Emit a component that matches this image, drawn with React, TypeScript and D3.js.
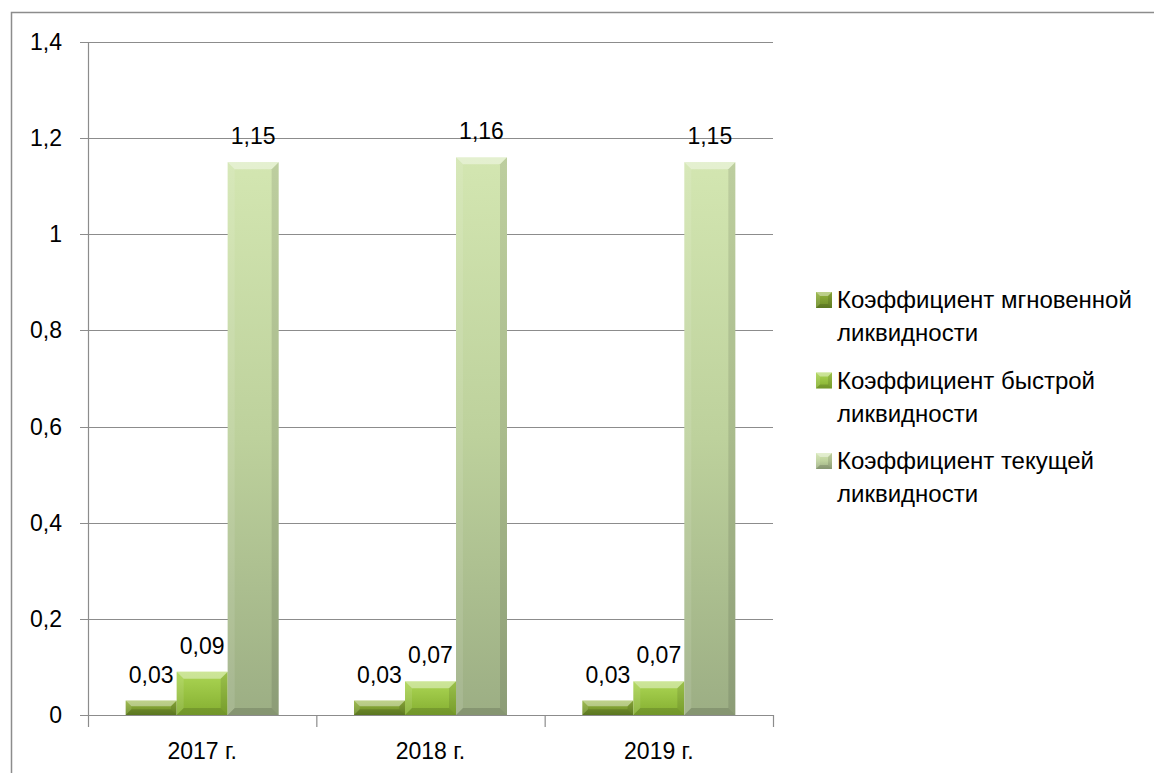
import React from "react";
import * as d3 from "d3";

const categories = ["2017 г.", "2018 г.", "2019 г."];
const seriesNames = [
  ["Коэффициент мгновенной", "ликвидности"],
  ["Коэффициент быстрой", "ликвидности"],
  ["Коэффициент текущей", "ликвидности"],
];
const instant = [0.03, 0.03, 0.03];
const quick = [0.09, 0.07, 0.07];
const current = [1.15, 1.16, 1.15];
const yTicks = [0, 0.2, 0.4, 0.6, 0.8, 1, 1.2, 1.4];

const seriesValues = [instant, quick, current];
const gradIds = ["g0", "g1", "g2"];
const FONT = "Liberation Sans, Arial, sans-serif";
const FS = 23;

const fmt = (v: number) => String(v).replace(".", ",");

export default function App() {
  const W = 1154, H = 773;
  const left = 88, right = 773, top = 42, bottom = 715;
  const y = d3.scaleLinear().domain([0, 1.4]).range([bottom, top]);
  const x0 = d3.scaleBand().domain(categories).range([left, right]).paddingInner(0).paddingOuter(0);
  const gw = x0.bandwidth();
  const groupW = gw * 0.67;
  const x1 = d3.scaleBand().domain(["0", "1", "2"]).range([0, groupW]);
  const bw = x1.bandwidth();

  const bevel = (x: number, yt: number, w: number, h: number) => {
    const b = Math.min(7, h / 2.5, w / 4);
    const xr = x + w, yb = yt + h;
    return (
      <g>
        <polygon points={`${x},${yt} ${xr},${yt} ${xr - b},${yt + b} ${x + b},${yt + b}`} fill="#ffffff" opacity={0.4} />
        <polygon points={`${x},${yt} ${x + b},${yt + b} ${x + b},${yb - b} ${x},${yb}`} fill="#ffffff" opacity={0.1} />
        <polygon points={`${xr},${yt} ${xr - b},${yt + b} ${xr - b},${yb - b} ${xr},${yb}`} fill="#000000" opacity={0.1} />
        <polygon points={`${x},${yb} ${x + b},${yb - b} ${xr - b},${yb - b} ${xr},${yb}`} fill="#000000" opacity={0.14} />
      </g>
    );
  };

  return (
    <svg width={W} height={H} style={{ position: "absolute", left: 0, top: 0 }} fontFamily={FONT}>
      <defs>
        <linearGradient id="g0" x1="0" y1="0" x2="0" y2="1">
          <stop offset="0" stopColor="#94b43e" />
          <stop offset="1" stopColor="#6a8a26" />
        </linearGradient>
        <linearGradient id="g1" x1="0" y1="0" x2="0" y2="1">
          <stop offset="0" stopColor="#acd654" />
          <stop offset="1" stopColor="#84ae30" />
        </linearGradient>
        <linearGradient id="g2" x1="0" y1="0" x2="0" y2="1">
          <stop offset="0" stopColor="#d3e6b1" />
          <stop offset="0.5" stopColor="#bdd19c" />
          <stop offset="1" stopColor="#9cae84" />
        </linearGradient>
      </defs>
      <rect x={0} y={0} width={W} height={H} fill="#ffffff" />
      <rect x={11.5} y={12.5} width={W + 10} height={H + 10} fill="none" stroke="#8c8c8c" strokeWidth={1.5} />

      {yTicks.map((t) => (
        <g key={t}>
          <line x1={left - 8} x2={right} y1={Math.round(y(t)) + 0.5} y2={Math.round(y(t)) + 0.5} stroke="#8c8c8c" strokeWidth={1.2} />
          <text x={62} y={y(t)} dy="0.35em" textAnchor="end" fontSize={FS} fill="#000">{fmt(t)}</text>
        </g>
      ))}
      <line x1={left + 0.5} x2={left + 0.5} y1={top} y2={bottom} stroke="#8c8c8c" strokeWidth={1.2} />
      {[...categories.map((c) => x0(c)!), right].map((xx, i) => (
        <line key={i} x1={xx + 0.5} x2={xx + 0.5} y1={bottom} y2={bottom + 12} stroke="#8c8c8c" strokeWidth={1.2} />
      ))}
      <line x1={left} x2={right} y1={bottom + 0.5} y2={bottom + 0.5} stroke="#8c8c8c" strokeWidth={1.2} />

      {categories.map((c, ci) => {
        const gx = x0(c)! + (gw - groupW) / 2;
        return (
          <g key={c}>
            {seriesValues.map((vals, si) => {
              const v = vals[ci];
              const bx = gx + x1(String(si))!;
              const yt = y(v);
              const h = bottom - yt;
              return (
                <g key={si}>
                  <rect x={bx} y={yt} width={bw} height={h} fill={`url(#${gradIds[si]})`} />
                  {bevel(bx, yt, bw, h)}
                </g>
              );
            })}
            {seriesValues.map((vals, si) => {
              const v = vals[ci];
              const bx = gx + x1(String(si))!;
              const yt = y(v);
              return (
                <text key={"l" + si} x={bx + bw / 2} y={yt - 18} textAnchor="middle" fontSize={FS} fill="#000">{fmt(v)}</text>
              );
            })}
            <text x={x0(c)! + gw / 2} y={759} textAnchor="middle" fontSize={FS} fill="#000">{c}</text>
          </g>
        );
      })}

      {seriesNames.map((lines, i) => {
        const ly = 300 + i * 80.5;
        return (
          <g key={i}>
            <rect x={816} y={ly - 8} width={16} height={16} fill={`url(#${gradIds[i]})`} />
            {bevel(816, ly - 8, 16, 16)}
            <text x={837} y={ly} dy="0.35em" fontSize={24} fill="#000">{lines[0]}</text>
            <text x={837} y={ly + 33} dy="0.35em" fontSize={24} fill="#000">{lines[1]}</text>
          </g>
        );
      })}
    </svg>
  );
}
